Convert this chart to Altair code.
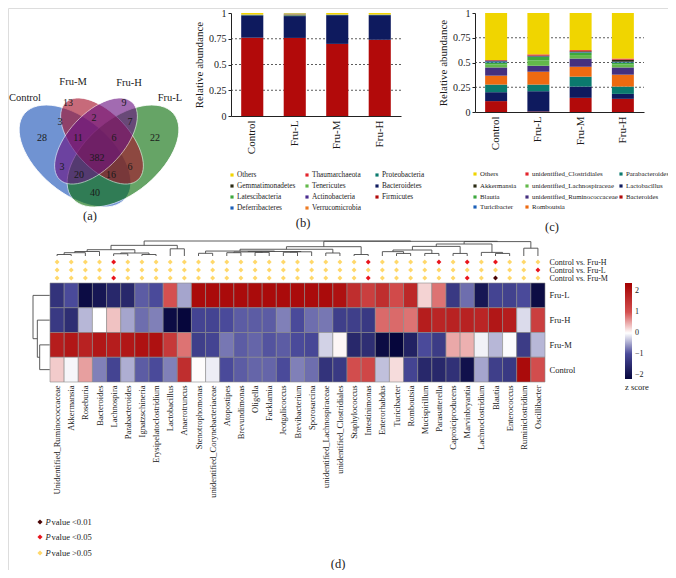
import altair as alt
import pandas as pd

W, H = 660, 562
OFF = 8
def px(v): return v - OFF
def py(v): return v - OFF
SERIF = "Liberation Serif"
INK = "#1a1a1a"

# ---------------- (a) Venn ----------------
venn_sets = ["Control", "Fru-L", "Fru-M", "Fru-H"]          # drawing order
venn_colors = ["#1A52B8", "#0A6E0A", "#A5102A", "#6A1282"]
venn_counts = [28, 13, 9, 22, 3, 2, 7, 11, 6, 382, 3, 6, 20, 16, 40]
# layout of the diagram (image pixels)
VS = 7
venn_cx = [68, 116, 95, 89]
venn_cy = [156, 156, 141, 141]
venn_a = [66, 66, 53, 53]
venn_ratio = [0.56, 0.56, 0.52, 0.52]
venn_angle = [40, 140, 47, 133]
venn_num_x = [35, 61, 117, 148, 53, 87, 123, 71, 107, 90, 55, 123, 72, 104, 88]
venn_num_y = [138, 103, 103, 138, 122, 118, 122, 138, 138, 158, 167, 167, 175, 175, 193]
venn_lab = ["Control", "Fru-M", "Fru-H", "Fru-L"]
venn_lab_x = [18, 66, 122, 163]
venn_lab_y = [98, 82, 83, 98]

# ---------------- (b) phyla ----------------
b_groups = ["Control", "Fru-L", "Fru-M", "Fru-H"]
b_taxa = ["Firmicutes", "Bacteroidetes", "Proteobacteria", "Verrucomicrobia", "Actinobacteria",
          "Tenericutes", "Deferribacteres", "Thaumarchaeota", "Latescibacteria", "Gemmatimonadetes", "Others"]
b_colors = ["#B20A0A", "#0E1A5E", "#0B7A6E", "#EE7A22", "#4B2D8F",
            "#63B84A", "#1C5FB8", "#E3242B", "#3DA83D", "#2B2B14", "#F2D500"]
b_control = [0.760, 0.217, 0.003, 0.002, 0.001, 0.001, 0.001, 0.0, 0.0, 0.0, 0.015]
b_frul    = [0.758, 0.212, 0.008, 0.008, 0.002, 0.003, 0.002, 0.001, 0.001, 0.001, 0.004]
b_frum    = [0.700, 0.279, 0.002, 0.001, 0.001, 0.001, 0.001, 0.0, 0.0, 0.0, 0.015]
b_fruh    = [0.740, 0.239, 0.002, 0.001, 0.001, 0.001, 0.001, 0.0, 0.0, 0.0, 0.015]
b_legend = ["Others", "Gemmatimonadetes", "Latescibacteria", "Deferribacteres",
            "Thaumarchaeota", "Tenericutes", "Actinobacteria", "Verrucomicrobia",
            "Proteobacteria", "Bacteroidetes", "Firmicutes"]

# ---------------- (c) genera ----------------
c_groups = ["Control", "Fru-L", "Fru-M", "Fru-H"]
c_taxa = ["Bacteroides", "Lactobacillus", "Parabacteroides", "Romboutsia", "unidentified_Ruminococcaceae",
          "unidentified_Lachnospiraceae", "Blautia", "Turicibacter", "Akkermansia", "unidentified_Clostridiales", "Others"]
c_colors = ["#B20A0A", "#0E1A5E", "#0B7A6E", "#EE6A10", "#45307F",
            "#63B84A", "#3DA83D", "#1C5FB8", "#2B2B14", "#E3242B", "#F0D500"]
c_control = [0.110, 0.090, 0.077, 0.090, 0.083, 0.030, 0.020, 0.012, 0.008, 0.005, 0.475]
c_frul    = [0.005, 0.205, 0.067, 0.130, 0.060, 0.055, 0.035, 0.005, 0.008, 0.012, 0.418]
c_frum    = [0.143, 0.114, 0.100, 0.100, 0.083, 0.035, 0.025, 0.005, 0.008, 0.012, 0.375]
c_fruh    = [0.133, 0.050, 0.074, 0.120, 0.073, 0.030, 0.020, 0.008, 0.020, 0.012, 0.460]
c_legend = ["Others", "Akkermansia", "Blautia", "Turicibacter",
            "unidentified_Clostridiales", "unidentified_Lachnospiraceae", "unidentified_Ruminococcaceae", "Romboutsia",
            "Parabacteroides", "Lactobacillus", "Bacteroides"]

# ---------------- (d) heatmap ----------------
heat_genera = ["Unidentified_Ruminococcaceae", "Akkermansia", "Roseburia", "Bacteroides", "Lachnospira",
               "Parabacteroides", "Ignatzschineria", "Erysipelatoclostridium", "Lactobacillus", "Anaerotruncus",
               "Stenotrophomonas", "unidentified_Corynebacteriaceae", "Atopostipes", "Brevundimonas", "Oligella",
               "Facklamia", "Jeotgalicoccus", "Brevibacterium", "Sporosarcina", "unidentified_Lachnospiraceae",
               "unidentified_Clostridiales", "Staphylococcus", "Intestinimonas", "Enterorhabdus", "Turicibacter",
               "Romboutsia", "Mucispirillum", "Parasutterella", "Caproiciproducens", "Marvinbryantia",
               "Lachnoclostridium", "Blautia", "Enterococcus", "Ruminiclostridium", "Oscillibacter"]
heat_rows = ["Fru-L", "Fru-H", "Fru-M", "Control"]
z_frul = [-1.4, -1.0, -2.1, -1.9, -1.6, -1.6, -0.9, -1.0, 1.0, -0.5,
          2.2, 2.2, 2.2, 2.2, 2.2, 2.2, 2.2, 2.2, 2.2, 2.2, 2.1,
          1.6, 1.3, 1.6, 1.1, 1.7, 0.25, 0.8, -1.3, -0.8, -1.9, -1.1, -1.15, -1.0, -2.1]
z_fruh = [-1.3, -1.5, -0.4, 0.0, 0.35, -0.5, -0.8, -0.7, -2.1, -2.2,
          -1.1, -1.1, -1.0, -0.9, -0.9, -0.9, -0.7, -1.0, -0.8, -0.75, -1.2,
          -1.2, -1.3, 0.85, 0.85, 0.8, 1.9, 1.75, 1.8, 1.8, 1.75, 2.0, 1.9, -0.2, 1.3]
z_frum = [1.9, 2.0, 1.8, 2.0, 1.9, 2.0, 2.1, 2.1, 1.4, 0.8,
          -1.2, -1.1, -0.75, -0.9, -0.85, -0.95, -0.9, -1.0, -1.05, -0.25, 0.05,
          -1.6, -1.5, -2.1, -2.2, -1.7, -1.0, -1.25, 0.5, 0.45, -0.08, -0.4, -0.02, -1.25, -0.4]
z_control = [0.3, -0.05, 0.55, -0.7, -1.1, -0.45, -0.9, -1.0, -0.7, 1.6,
             0.02, -0.1, -1.0, -0.9, -0.85, -0.85, -1.0, -0.7, -0.8, -1.4, -1.3,
             1.05, 1.15, -0.35, 0.2, -1.1, -1.6, -1.6, -1.45, -2.0, -0.5, -1.2, -1.3, 2.2, 1.05]
comparisons = ["Control vs. Fru-H", "Control vs. Fru-L", "Control vs. Fru-M"]
# 0: P > 0.05, 1: P < 0.05, 2: P < 0.01
sig_h = [0, 0, 0, 0, 1, 0, 0, 0, 0, 0, 0, 0, 0, 0, 0, 0, 0, 0, 0, 0, 0, 0, 1, 0, 0, 0, 0, 1, 0, 1, 0, 1, 0, 0, 0]
sig_l = [0, 0, 0, 0, 0, 0, 0, 0, 0, 0, 0, 0, 0, 0, 0, 0, 0, 0, 0, 0, 0, 0, 0, 0, 0, 0, 0, 0, 0, 0, 0, 0, 0, 0, 1]
sig_m = [0, 0, 0, 0, 1, 0, 0, 0, 0, 0, 0, 0, 0, 0, 0, 0, 0, 0, 0, 0, 0, 0, 1, 0, 0, 0, 0, 0, 0, 1, 0, 2, 0, 0, 0]
sig_colors = ["#FFD86A", "#E8141C", "#4A0505"]
sig_labels = ["P value <0.01", "P value <0.05", "P value >0.05"]
# clustering trees (merge height, left, right); leaves are column / row indices
col_tree = (1.0,
            (0.71, (0.42, (0.30, (0.22, (0.10, 0, 1), 2), 3), (0.20, (0.15, 4, 5), (0.10, 6, 7))), (0.48, 8, 9)),
            (0.98,
             (0.62, (0.45, (0.33, (0.18, 10, 11), (0.30, (0.27, (0.22, 12, 13), (0.24, 14, 15)), (0.28, (0.25, 16, 17), 18))),
                     (0.20, 19, 20)), (0.10, 21, 22)),
             (0.96,
              (0.80, (0.64, (0.40, (0.29, 23, (0.17, 24, 25)), (0.17, 26, 27)), (0.17, 28, 29)),
               (0.24, 30, (0.17, 31, 32))),
              (0.52, 33, 34))))
row_tree = (1.0, 0, (0.74, 1, (0.60, 2, 3)))

# ---------------- frames ----------------
def stack_df(groups, taxa, colors, series):
    rows = []
    for g, vals in zip(groups, series):
        for k, (t, c, v) in enumerate(zip(taxa, colors, vals)):
            rows.append(dict(g=g, t=t, c=c, v=v, k=k))
    return pd.DataFrame(rows)

def legend_df(names, taxa, colors, xs, ys):
    cmap = dict(zip(taxa, colors))
    rows = []
    for i, n in enumerate(names):
        rows.append(dict(x=px(xs[i // 4]), y=py(ys[i % 4]), tx=px(xs[i // 4] + 5), t=n, c=cmap[n]))
    return pd.DataFrame(rows)

def tree_segments(node, out):
    if isinstance(node, int):
        return node + 0.5, 0.0
    h, a, b = node
    xa, ha = tree_segments(a, out)
    xb, hb = tree_segments(b, out)
    out.append(dict(p=xa, p2=xb, h=h, h2=h))
    out.append(dict(p=xa, p2=xa, h=ha, h2=h))
    out.append(dict(p=xb, p2=xb, h=hb, h2=h))
    return (xa + xb) / 2, h

def txt(df, size, align="center", italic=False, xf="x", color=INK):
    return alt.Chart(df).mark_text(font=SERIF, fontSize=size, align=align, baseline="middle",
                                   fontStyle="italic" if italic else "normal", color=color).encode(
        x=alt.X(f"{xf}:Q", scale=None, axis=None),
        y=alt.Y("y:Q", scale=None, axis=None),
        text="t:N")

def pts(df, shape, size, filled=True):
    return alt.Chart(df).mark_point(shape=shape, size=size, filled=filled, opacity=1).encode(
        x=alt.X("x:Q", scale=None, axis=None),
        y=alt.Y("y:Q", scale=None, axis=None),
        color=alt.Color("c:N", scale=None))

layers = []

# ---- Venn ----
vdf = pd.DataFrame(dict(
    x=[px(v + VS) for v in venn_cx], y=[py(v) for v in venn_cy],
    s=[(2 * a) ** 2 for a in venn_a], ang=venn_angle, c=venn_colors,
    shp=[f"M -1 0 A 1 {r} 0 1 0 1 0 A 1 {r} 0 1 0 -1 0 Z" for r in venn_ratio]))
layers.append(alt.Chart(vdf).mark_point(filled=True, opacity=0.62, stroke="white", strokeWidth=0.8).encode(
    x=alt.X("x:Q", scale=None, axis=None), y=alt.Y("y:Q", scale=None, axis=None),
    size=alt.Size("s:Q", scale=None), angle=alt.Angle("ang:Q", scale=None),
    shape=alt.Shape("shp:N", scale=None), color=alt.Color("c:N", scale=None)))
layers.append(txt(pd.DataFrame(dict(x=[px(v + VS) for v in venn_num_x], y=[py(v) for v in venn_num_y],
                                    t=[str(v) for v in venn_counts])), 10))
layers.append(txt(pd.DataFrame(dict(x=[px(v + VS) for v in venn_lab_x], y=[py(v) for v in venn_lab_y],
                                    t=venn_lab)), 10.5))

# ---- bar panels ----
def bar_panel(groups, taxa, colors, series, x0, x1, y0, y1, legend_names, leg_x, leg_y, leg_font):
    out = []
    xs = alt.Scale(domain=groups, range=[px(x0), px(x1)], paddingInner=0.48, paddingOuter=0.24)
    ys = alt.Scale(domain=[0, 1], range=[py(y0), py(y1)], nice=False)
    grid = pd.DataFrame(dict(v=[0.25, 0.5, 0.75]))
    out.append(alt.Chart(grid).mark_rule(color="#333333", strokeDash=[2, 2], strokeWidth=0.8).encode(
        y=alt.Y("v:Q", scale=ys, axis=None), x=alt.value(px(x0)), x2=alt.value(px(x1))))
    df = stack_df(groups, taxa, colors, series)
    out.append(alt.Chart(df).mark_bar().encode(
        x=alt.X("g:N", scale=xs, sort=groups, title=None,
                axis=alt.Axis(orient="bottom", offset=py(y0) - H, labelAngle=270, ticks=False,
                              labelPadding=4, labelFont=SERIF, labelFontSize=11, labelColor=INK,
                              domainColor="#222", domainWidth=1)),
        y=alt.Y("v:Q", stack="zero", scale=ys, title="Relative abundance",
                axis=alt.Axis(orient="left", offset=-px(x0), values=[0, 0.25, 0.5, 0.75, 1], format=".2~f",
                              grid=False, tickSize=3, labelPadding=2, labelFont=SERIF, labelFontSize=10,
                              labelColor=INK, titleFont=SERIF, titleFontSize=11, titleFontWeight="normal",
                              titleColor=INK, titlePadding=4, domainColor="#222", tickColor="#222")),
        color=alt.Color("c:N", scale=None), detail="t:N",
        order=alt.Order("k:Q", sort="ascending")))
    ldf = legend_df(legend_names, taxa, colors, leg_x, leg_y)
    out.append(pts(ldf, "square", 10))
    out.append(txt(ldf, leg_font, align="left", xf="tx"))
    return out

layers += bar_panel(b_groups, b_taxa, b_colors, [b_control, b_frul, b_frum, b_fruh],
                    231, 401, 116, 13, b_legend, [232, 307, 377], [175, 186, 197, 208], 7.3)
layers += bar_panel(c_groups, c_taxa, c_colors, [c_control, c_frul, c_frum, c_fruh],
                    475, 644, 112, 13, c_legend, [475, 527, 621], [174, 186, 197, 207], 6.8)

# ---- heatmap ----
hx = alt.Scale(domain=heat_genera, range=[px(50), px(545)], paddingInner=0, paddingOuter=0)
hrows = []
for r, vals in zip(heat_rows, [z_frul, z_fruh, z_frum, z_control]):
    for g, v in zip(heat_genera, vals):
        hrows.append(dict(g=g, r=r, z=v))
hdf = pd.DataFrame(hrows)
layers.append(alt.Chart(hdf).mark_rect(stroke="#8a8a8a", strokeWidth=0.6).encode(
    x=alt.X("g:N", scale=hx, sort=heat_genera, title=None,
            axis=alt.Axis(orient="bottom", offset=py(382) - H, labelAngle=270, ticks=False, domain=False,
                          labelPadding=3, labelFont=SERIF, labelFontSize=8.5, labelColor=INK)),
    y=alt.Y("r:N", sort=heat_rows, title=None,
            scale=alt.Scale(domain=heat_rows, range=[py(283), py(382)], paddingInner=0, paddingOuter=0),
            axis=alt.Axis(orient="right", offset=px(545) - W, ticks=False, domain=False, labelPadding=4,
                          labelFont=SERIF, labelFontSize=8.5, labelColor=INK)),
    color=alt.Color("z:Q", title="z score",
                    scale=alt.Scale(domain=[-2.2, -1, 0, 1, 2.4],
                                    range=["#06063C", "#4A4A9A", "#FFFFFF", "#D45050", "#A30000"],
                                    interpolate="rgb"),
                    legend=alt.Legend(orient="none", legendX=px(625), legendY=py(283), direction="vertical",
                                      gradientLength=96, gradientThickness=7, values=[-2, -1, 0, 1, 2],
                                      labelFont=SERIF, labelFontSize=8, labelColor=INK, labelOverlap=False,
                                      labelOffset=3, titleOrient="bottom", titleFont=SERIF, titleFontSize=8.5,
                                      titleFontWeight="normal", titleColor=INK, titlePadding=4,
                                      gradientStrokeWidth=0))))

# ---- significance markers ----
srows = []
for comp, codes in zip(comparisons, [sig_h, sig_l, sig_m]):
    for g, code in zip(heat_genera, codes):
        srows.append(dict(g=g, comp=comp, c=sig_colors[code]))
sdf = pd.DataFrame(srows)
layers.append(alt.Chart(sdf).mark_point(shape="diamond", size=24, filled=True, opacity=1).encode(
    x=alt.X("g:N", scale=hx, sort=heat_genera, axis=None),
    y=alt.Y("comp:N", sort=comparisons, title=None,
            scale=alt.Scale(domain=comparisons, range=[py(258), py(282)], paddingInner=0, paddingOuter=0),
            axis=alt.Axis(orient="right", offset=px(545) - W, ticks=False, domain=False, labelPadding=4,
                          labelFont=SERIF, labelFontSize=8, labelColor=INK)),
    color=alt.Color("c:N", scale=None)))

# ---- dendrograms ----
cseg = []
tree_segments(col_tree, cseg)
layers.append(alt.Chart(pd.DataFrame(cseg)).mark_rule(color="#4a4a4a", strokeWidth=0.9).encode(
    x=alt.X("p:Q", scale=alt.Scale(domain=[0, 35], range=[px(50), px(545)], nice=False, zero=False), axis=None),
    x2="p2:Q",
    y=alt.Y("h:Q", scale=alt.Scale(domain=[0, 1], range=[py(256), py(241)], nice=False, zero=False), axis=None),
    y2="h2:Q"))
rseg = []
tree_segments(row_tree, rseg)
layers.append(alt.Chart(pd.DataFrame(rseg)).mark_rule(color="#4a4a4a", strokeWidth=0.9).encode(
    y=alt.Y("p:Q", scale=alt.Scale(domain=[0, 4], range=[py(283), py(382)], nice=False, zero=False), axis=None),
    y2="p2:Q",
    x=alt.X("h:Q", scale=alt.Scale(domain=[0, 1], range=[px(49.7), px(33)], nice=False, zero=False), axis=None),
    x2="h2:Q"))

# ---- P-value legend ----
pl_y = [522, 537, 553]
pdf_ = pd.DataFrame(dict(x=[px(40)] * 3, y=[py(v) for v in pl_y], c=[sig_colors[2], sig_colors[1], sig_colors[0]],
                         t=[s.split(" ", 1)[1] for s in sig_labels], tx=[px(51.5)] * 3))
layers.append(pts(pdf_, "diamond", 26))
layers.append(txt(pd.DataFrame(dict(x=[px(45.5)] * 3, y=[py(v) for v in pl_y], t=["P"] * 3)), 8.5,
                  align="left", italic=True))
layers.append(txt(pdf_, 8.5, align="left", xf="tx"))

# ---- panel labels ----
layers.append(txt(pd.DataFrame(dict(x=[px(90), px(303), px(552), px(338)], y=[py(216), py(223), py(227), py(564)],
                                    t=["(a)", "(b)", "(c)", "(d)"])), 12.5))

chart = alt.layer(*layers).resolve_scale(
    x="independent", y="independent", color="independent", size="independent",
    shape="independent", angle="independent"
).resolve_axis(x="independent", y="independent").properties(
    width=W, height=H, autosize=alt.AutoSizeParams(type="none"),
    padding={"left": 0, "top": 0, "right": 0, "bottom": 0}
).configure_view(stroke=None).configure(font=SERIF)

chart.save("out.html", embed_options={"renderer": "svg", "actions": False})
